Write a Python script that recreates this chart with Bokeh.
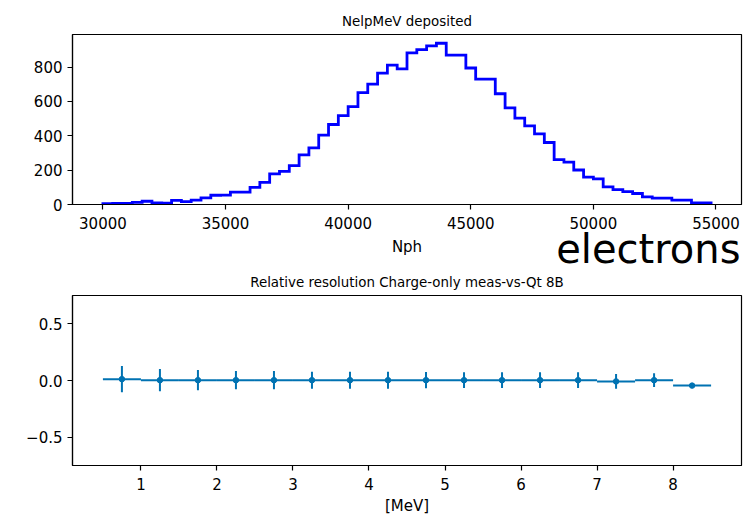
import numpy as np
from bokeh.plotting import figure
from bokeh.layouts import column
from bokeh.models import Range1d, FixedTicker, Label
from bokeh.embed import file_html
from bokeh.resources import INLINE

# ---------------- data ----------------
# top: histogram of number of photons (Nph), bin edges 30000..54800 step 400
nph_edges = list(range(30000, 54801, 400))
nph_counts = [5, 6, 6, 12, 19, 9, 8, 24, 17, 25,
              38, 54, 55, 72, 72, 100, 129, 178, 193, 226,
              289, 330, 404, 466, 518, 570, 651, 701, 765, 812,
              790, 883, 902, 924, 939, 870, 870, 795, 730, 730,
              645, 563, 503, 458, 411, 361, 261, 247, 201, 160,
              149, 103, 87, 75, 64, 44, 37, 37, 25, 25,
              10, 10]
top_xticks = [30000, 35000, 40000, 45000, 50000, 55000]
top_yticks = [0, 200, 400, 600, 800]

# bottom: relative resolution vs energy
energy = [0.75, 1.25, 1.75, 2.25, 2.75, 3.25, 3.75, 4.25,
          4.75, 5.25, 5.75, 6.25, 6.75, 7.25, 7.75, 8.25]
energy_half_width = [0.25] * 16
rel_res = [0.012, 0.003, 0.003, 0.003, 0.003, 0.003, 0.003, 0.003,
           0.003, 0.003, 0.003, 0.003, 0.003, -0.008, 0.003, -0.045]
rel_res_err = [0.115, 0.098, 0.09, 0.08, 0.08, 0.075, 0.075, 0.075,
               0.072, 0.07, 0.07, 0.07, 0.07, 0.065, 0.06, 0.012]
bottom_xticks = [1, 2, 3, 4, 5, 6, 7, 8]
bottom_yticks = [-0.5, 0.0, 0.5]
bottom_ylabels = {-0.5: "\u22120.5", 0.0: "0.0", 0.5: "0.5"}

FONT = "DejaVu Sans"
TICK_SIZE = "15px"
TITLE_SIZE = "13.4px"


def style(p):
    p.background_fill_color = "white"
    p.border_fill_color = "white"
    p.outline_line_color = "black"
    p.outline_line_width = 1.2
    p.grid.visible = False
    for ax in (p.xaxis[0], p.yaxis[0]):
        ax.axis_line_color = "black"
        ax.axis_line_width = 1.2
        ax.major_tick_line_color = "black"
        ax.major_tick_line_width = 1.2
        ax.major_tick_out = 5
        ax.major_tick_in = 0
        ax.minor_tick_line_color = None
        ax.major_label_text_font = FONT
        ax.major_label_text_font_size = TICK_SIZE
        ax.major_label_text_color = "black"
        ax.major_label_standoff = 5
        ax.axis_label_text_font = FONT
        ax.axis_label_text_font_size = TICK_SIZE
        ax.axis_label_text_font_style = "normal"
        ax.axis_label_text_color = "black"
    p.xaxis.major_label_standoff = 7
    p.title.align = "center"
    p.title.text_font = FONT
    p.title.text_font_size = TITLE_SIZE
    p.title.text_font_style = "normal"
    p.title.text_color = "black"


# ---------------- top figure ----------------
p1 = figure(width=753, height=231, output_backend="svg", toolbar_location=None,
            title="NelpMeV deposited",
            x_range=Range1d(28760, 56040), y_range=Range1d(0, 990),
            min_border_left=72, min_border_right=12,
            min_border_top=34, min_border_bottom=26)
style(p1)
p1.title.standoff = 12
p1.xaxis.ticker = FixedTicker(ticks=top_xticks)
p1.yaxis.ticker = FixedTicker(ticks=top_yticks)

xs = [nph_edges[0]]
ys = [0]
for i, c in enumerate(nph_counts):
    xs += [nph_edges[i], nph_edges[i + 1]]
    ys += [c, c]
xs.append(nph_edges[len(nph_counts)])
ys.append(0)
p1.line(xs, ys, line_color="#0000ff", line_width=2.8, line_join="miter")

# ---------------- middle strip: x-axis title of top plot + annotation ----------------
# same left/right borders as the plots so the strip's frame lines up with them;
# its ranges are in page pixels (x) and pixels below the strip top (y)
mid = figure(width=753, height=33, output_backend="svg", toolbar_location=None,
             x_range=Range1d(72, 741), y_range=Range1d(33, 0),
             x_axis_type=None, y_axis_type=None,
             min_border_left=72, min_border_right=12,
             min_border_top=0, min_border_bottom=0)
mid.outline_line_color = None
mid.background_fill_color = "white"
mid.border_fill_color = "white"
mid.add_layout(Label(x=406.5, y=15, text="Nph", text_font=FONT,
                     text_font_size=TICK_SIZE, text_color="black",
                     text_baseline="middle", text_align="center"))
mid.add_layout(Label(x=740, y=17, text="electrons", text_font=FONT,
                     text_font_size="40px", text_color="black",
                     text_baseline="middle", text_align="right"))

# ---------------- bottom figure ----------------
p2 = figure(width=753, height=254, output_backend="svg", toolbar_location=None,
            title="Relative resolution Charge-only meas-vs-Qt 8B",
            x_range=Range1d(0.1, 8.9), y_range=Range1d(-0.75, 0.75),
            min_border_left=72, min_border_right=12,
            min_border_top=31, min_border_bottom=53)
style(p2)
p2.title.standoff = 11
p2.xaxis.ticker = FixedTicker(ticks=bottom_xticks)
p2.yaxis.ticker = FixedTicker(ticks=bottom_yticks)
p2.yaxis.major_label_overrides = bottom_ylabels
p2.xaxis.axis_label = "[MeV]"
p2.xaxis.axis_label_standoff = 4

e = np.array(energy)
hw = np.array(energy_half_width)
r = np.array(rel_res)
er = np.array(rel_res_err)
col = "#0072b2"
p2.segment(x0=e - hw, y0=r, x1=e + hw, y1=r, line_color=col, line_width=2)
p2.segment(x0=e, y0=r - er, x1=e, y1=r + er, line_color=col, line_width=2)
p2.scatter(e, r, size=5.5, marker="circle", fill_color=col, line_color=col)

layout = column(p1, mid, p2)
open("out.html", "w").write(file_html(layout, INLINE))
